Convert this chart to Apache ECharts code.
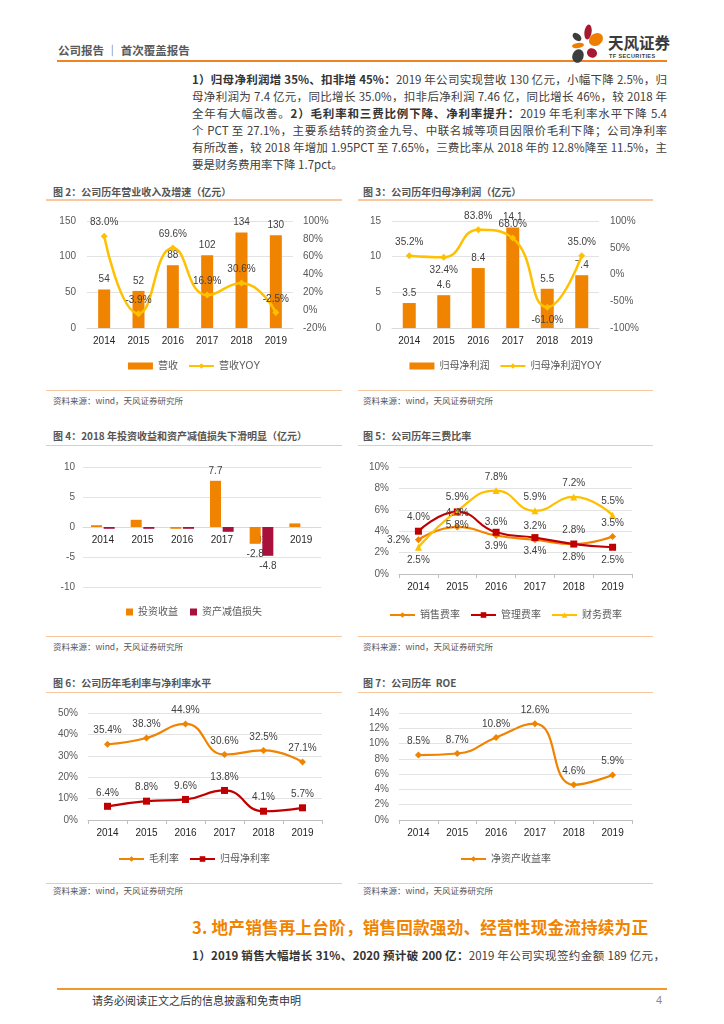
<!DOCTYPE html>
<html>
<head>
<meta charset="utf-8">
<script src="https://cdn.jsdelivr.net/npm/echarts@6.0.0/dist/echarts.min.js"></script>
<style>
html,body{margin:0;padding:0;background:#fff;}
body{width:724px;height:1024px;position:relative;overflow:hidden;font-family:'Liberation Sans','Noto Sans CJK SC',sans-serif;}
.a{position:absolute;white-space:nowrap;}
.hdr{font-family:'Noto Sans CJK SC',sans-serif;font-size:11.5px;line-height:15px;color:#5a5a5a;font-weight:bold;}
.p{position:absolute;left:192px;width:475px;font-family:'Noto Sans CJK SC',sans-serif;font-size:11.5px;line-height:17px;height:17px;color:#404040;text-align:justify;text-align-last:justify;overflow:visible;}
.p b{color:#333;}
.ttl{font-family:'Noto Sans CJK SC',sans-serif;font-size:10px;line-height:13px;color:#555;font-weight:bold;}
.src{font-family:'Noto Sans CJK SC',sans-serif;font-size:8.5px;line-height:11px;color:#555;}
.ul{position:absolute;height:1.5px;background:#F8C9A0;}
.chart{position:absolute;}
</style>
</head>
<body>
<!-- header -->
<div class="a hdr" style="left:58px;top:43px;">公司报告 ｜ 首次覆盖报告</div>
<div style="position:absolute;left:57px;top:59.5px;width:610px;height:2.5px;background:#EF8522;"></div>
<svg style="position:absolute;left:568px;top:22px;" width="40" height="44" viewBox="0 0 40 44">
  <ellipse cx="20" cy="10" rx="3.6" ry="7.5" transform="rotate(8 20 10)" fill="#A6192E"/>
  <ellipse cx="9" cy="15" rx="5" ry="3.4" transform="rotate(40 9 15)" fill="#3D3D3D"/>
  <ellipse cx="28" cy="17.5" rx="7.5" ry="6" transform="rotate(-35 28 17.5)" fill="#EE7D00"/>
  <ellipse cx="10" cy="23.5" rx="6" ry="2.6" transform="rotate(-8 10 23.5)" fill="#EE7D00"/>
  <ellipse cx="24" cy="31" rx="5.2" ry="4.6" transform="rotate(30 24 31)" fill="#A6192E"/>
  <ellipse cx="10" cy="34" rx="5.6" ry="7" transform="rotate(20 10 34)" fill="#3D3D3D"/>
</svg>
<div class="a" style="left:608px;top:33px;font-family:'Noto Sans CJK SC',sans-serif;font-size:15.5px;line-height:19px;font-weight:bold;color:#3a3a3a;">天风证券</div>
<div class="a" style="left:609px;top:52.5px;font-size:5.5px;line-height:7px;font-weight:bold;color:#3a3a3a;letter-spacing:0.4px;">TF SECURITIES</div>

<!-- paragraph -->
<div class="p" style="top:71px;"><b>1）归母净利润增 35%、扣非增 45%：</b>2019 年公司实现营收 130 亿元，小幅下降 2.5%，归</div>
<div class="p" style="top:88px;">母净利润为 7.4 亿元，同比增长 35.0%，扣非后净利润 7.46 亿，同比增长 46%，较 2018 年</div>
<div class="p" style="top:105px;">全年有大幅改善。<b>2）毛利率和三费比例下降、净利率提升：</b>2019 年毛利率水平下降 5.4</div>
<div class="p" style="top:122px;">个 PCT 至 27.1%，主要系结转的资金九号、中联名城等项目因限价毛利下降；公司净利率</div>
<div class="p" style="top:139px;">有所改善，较 2018 年增加 1.95PCT 至 7.65%，三费比率从 2018 年的 12.8%降至 11.5%，主</div>
<div class="p" style="top:156px;text-align-last:left;">要是财务费用率下降 1.7pct。</div>

<!-- figure titles and rules -->
<div class="a ttl" style="left:53px;top:184.5px;">图 2：公司历年营业收入及增速（亿元）</div>
<div class="a ttl" style="left:363px;top:184.5px;">图 3：公司历年归母净利润（亿元）</div>
<div class="ul" style="left:46px;top:199px;width:296px;"></div>
<div class="ul" style="left:358px;top:199px;width:295px;"></div>
<div class="ul" style="left:46px;top:389.5px;width:296px;"></div>
<div class="ul" style="left:358px;top:389.5px;width:295px;"></div>
<div class="a src" style="left:53px;top:394.5px;">资料来源：wind，天风证券研究所</div>
<div class="a src" style="left:363px;top:394.5px;">资料来源：wind，天风证券研究所</div>

<div class="a ttl" style="left:53px;top:428.5px;">图 4：2018 年投资收益和资产减值损失下滑明显（亿元）</div>
<div class="a ttl" style="left:363px;top:428.5px;">图 5：公司历年三费比率</div>
<div class="ul" style="left:46px;top:444.5px;width:296px;"></div>
<div class="ul" style="left:358px;top:444.5px;width:295px;"></div>
<div class="ul" style="left:46px;top:635.5px;width:296px;"></div>
<div class="ul" style="left:358px;top:635.5px;width:295px;"></div>
<div class="a src" style="left:53px;top:640.5px;">资料来源：wind，天风证券研究所</div>
<div class="a src" style="left:363px;top:640.5px;">资料来源：wind，天风证券研究所</div>

<div class="a ttl" style="left:53px;top:675.5px;">图 6：公司历年毛利率与净利率水平</div>
<div class="a ttl" style="left:363px;top:675.5px;">图 7：公司历年&nbsp; ROE</div>
<div class="ul" style="left:46px;top:691.5px;width:296px;"></div>
<div class="ul" style="left:358px;top:691.5px;width:295px;"></div>
<div class="ul" style="left:46px;top:882.5px;width:296px;"></div>
<div class="ul" style="left:358px;top:882.5px;width:295px;"></div>
<div class="a src" style="left:53px;top:884.5px;">资料来源：wind，天风证券研究所</div>
<div class="a src" style="left:363px;top:884.5px;">资料来源：wind，天风证券研究所</div>

<!-- charts -->
<div id="c2" class="chart" style="left:46px;top:200px;width:296px;height:190px;"></div>
<div id="c3" class="chart" style="left:358px;top:200px;width:295px;height:190px;"></div>
<div id="c4" class="chart" style="left:46px;top:445px;width:296px;height:191px;"></div>
<div id="c5" class="chart" style="left:358px;top:445px;width:295px;height:191px;"></div>
<div id="c6" class="chart" style="left:46px;top:692px;width:296px;height:191px;"></div>
<div id="c7" class="chart" style="left:358px;top:692px;width:295px;height:191px;"></div>

<!-- section 3 -->
<div class="a" style="left:192px;top:916px;font-family:'Noto Sans CJK SC',sans-serif;font-size:16.6px;line-height:22px;color:#F08300;font-weight:bold;letter-spacing:0.2px;">3. 地产销售再上台阶，销售回款强劲、经营性现金流持续为正</div>
<div class="p" style="top:946.5px;width:473px;"><b>1）2019 销售大幅增长 31%、2020 预计破 200 亿：</b>2019 年公司实现签约金额 189 亿元，</div>

<!-- footer -->
<div style="position:absolute;left:57px;top:988px;width:610px;height:2px;background:#EF9A2A;"></div>
<div class="a" style="left:92px;top:993px;font-family:'Noto Sans CJK SC',sans-serif;font-size:11px;line-height:14px;color:#333;">请务必阅读正文之后的信息披露和免责申明</div>
<div class="a" style="left:656px;top:993px;font-size:11px;line-height:14px;color:#888;">4</div>

<script>
// ---------------- data ----------------
const years = ['2014', '2015', '2016', '2017', '2018', '2019'];
const revenue = [54, 52, 88, 102, 134, 130];
const revenueYoy = [83.0, -3.9, 69.6, 16.9, 30.6, -2.5];
const netProfit = [3.5, 4.6, 8.4, 14.1, 5.5, 7.4];
const netProfitYoy = [35.2, 32.4, 83.8, 68.0, -61.0, 35.0];
const investIncome = [0.3, 1.2, -0.3, 7.7, -2.8, 0.6];
const impairment = [-0.3, -0.3, -0.3, -0.8, -4.8, null];
const salesRate = [3.2, 4.4, 3.6, 3.2, 2.8, 3.5];
const mgmtRate = [4.0, 5.8, 3.9, 3.4, 2.8, 2.5];
const finRate = [2.5, 5.9, 7.8, 5.9, 7.2, 5.5];
const grossMargin = [35.4, 38.3, 44.9, 30.6, 32.5, 27.1];
const netMargin = [6.4, 8.8, 9.6, 13.8, 4.1, 5.7];
const roe = [8.5, 8.7, 10.8, 12.6, 4.6, 5.9];

// label placement (style, not data)
const yoy3Pos = ['top', 'bottom', 'top', 'top', 'bottom', 'top'];
const investLabelShow = [false, false, false, true, true, false];
const impairLabelShow = [false, false, false, false, true, false];
const salesPos = ['left', 'top', 'top', 'top', 'top', 'top'];
const mgmtPos = ['top', 'bottom', 'bottom', 'bottom', 'bottom', 'bottom'];
const finPos = ['bottom', 'top', 'top', 'top', 'top', 'top'];

// ---------------- styles ----------------
const FONT = "'Liberation Sans','Noto Sans CJK SC',sans-serif";
const ORANGE = '#F08300';
const YELLOW = '#FFC000';
const DARKRED = '#C00000';
const CRIMSON = '#A9113C';
const LBL = { color: '#404040', fontSize: 10, fontFamily: FONT };
const pct = p => Number(p.value).toFixed(1) + '%';

function legendCfg(top, data, w, h, gap) {
  return { top: top, left: 'center', itemWidth: w, itemHeight: h, itemGap: gap,
    textStyle: { fontSize: 10, color: '#595959', fontFamily: FONT }, data: data };
}
function catAxis(ticks) {
  return { type: 'category', data: years,
    axisLine: { lineStyle: { color: ticks ? '#BFBFBF' : '#D9D9D9', width: 1 } },
    axisTick: ticks ? { show: true, length: 4, lineStyle: { color: '#BFBFBF' } } : { show: false },
    axisLabel: { color: '#262626', fontSize: 10, margin: 8, fontFamily: FONT } };
}
function valAxis(min, max, interval, fmt, margin, grid) {
  return { type: 'value', min: min, max: max, interval: interval,
    axisLine: { show: false }, axisTick: { show: false },
    axisLabel: { color: '#595959', fontSize: 10, margin: margin, fontFamily: FONT, formatter: fmt },
    splitLine: grid ? { lineStyle: { color: '#E3E3E3', width: 1 } } : { show: false } };
}
function mk(id, opt) {
  const c = echarts.init(document.getElementById(id), null, { renderer: 'canvas' });
  opt.animation = false;
  opt.textStyle = { fontFamily: FONT };
  c.setOption(opt);
}

// Figure 2
mk('c2', {
  grid: { left: 41, right: 49, top: 21, bottom: 62 },
  legend: legendCfg(156, [{ name: '营收', icon: 'rect' }, { name: '营收YOY' }], 25, 7, 10),
  xAxis: catAxis(false),
  yAxis: [valAxis(0, 150, 50, '{value}', 11, true), valAxis(-20, 100, 20, '{value}%', 10, false)],
  series: [
    { name: '营收', type: 'bar', data: revenue, barWidth: 12, itemStyle: { color: ORANGE },
      label: Object.assign({ show: true, position: 'top' }, LBL) },
    { name: '营收YOY', type: 'line', yAxisIndex: 1, data: revenueYoy, smooth: true,
      symbol: 'diamond', symbolSize: 7, lineStyle: { width: 2.5, color: YELLOW }, itemStyle: { color: YELLOW },
      label: Object.assign({ show: true, position: 'top', formatter: pct }, LBL) }
  ]
});

// Figure 3
mk('c3', {
  grid: { left: 34, right: 54, top: 21, bottom: 62 },
  legend: legendCfg(156, [{ name: '归母净利润', icon: 'rect' }, { name: '归母净利润YOY' }], 25, 7, 10),
  xAxis: catAxis(false),
  yAxis: [valAxis(0, 15, 5, '{value}', 11, true), valAxis(-100, 100, 50, '{value}%', 11, false)],
  series: [
    { name: '归母净利润', type: 'bar', data: netProfit, barWidth: 13, itemStyle: { color: ORANGE },
      label: Object.assign({ show: true, position: 'top', formatter: p => Number(p.value).toFixed(1) }, LBL) },
    { name: '归母净利润YOY', type: 'line', yAxisIndex: 1, smooth: true,
      data: netProfitYoy.map((v, i) => ({ value: v, label: { position: yoy3Pos[i] } })),
      symbol: 'diamond', symbolSize: 7, lineStyle: { width: 2.5, color: YELLOW }, itemStyle: { color: YELLOW },
      label: Object.assign({ show: true, formatter: pct }, LBL) }
  ]
});

// Figure 4 (category axis drawn at the zero line via offset)
const c4x = catAxis(false);
c4x.axisLine.onZero = false;
c4x.offset = -60;
mk('c4', {
  grid: { left: 37, right: 21, top: 22, bottom: 49 },
  legend: legendCfg(157, [{ name: '投资收益', icon: 'rect' }, { name: '资产减值损失', icon: 'rect' }], 7, 7, 12),
  xAxis: c4x,
  yAxis: valAxis(-10, 10, 5, '{value}', 8, true),
  series: [
    { name: '投资收益', type: 'bar', barWidth: 11, barGap: '15%', itemStyle: { color: ORANGE },
      data: investIncome.map((v, i) => ({ value: v, label: { show: investLabelShow[i], position: v < 0 ? 'bottom' : 'top' } })),
      label: Object.assign({ formatter: p => Number(p.value).toFixed(1) }, LBL) },
    { name: '资产减值损失', type: 'bar', barWidth: 11, itemStyle: { color: CRIMSON },
      data: impairment.map((v, i) => ({ value: v, label: { show: impairLabelShow[i], position: 'bottom' } })),
      label: Object.assign({ formatter: p => Number(p.value).toFixed(1) }, LBL) }
  ]
});

// Figure 5
function lineSeries(name, vals, color, symbol, pos) {
  return { name: name, type: 'line', smooth: true, symbol: symbol, symbolSize: 7,
    lineStyle: { width: 2.2, color: color }, itemStyle: { color: color },
    data: vals.map((v, i) => ({ value: v, label: { position: pos ? pos[i] : 'top' } })),
    label: Object.assign({ show: true, formatter: pct }, LBL) };
}
mk('c5', {
  grid: { left: 41, right: 21, top: 22, bottom: 62 },
  legend: legendCfg(160, ['销售费率', '管理费率', '财务费率'], 25, 7, 10),
  xAxis: catAxis(true),
  yAxis: valAxis(0, 10, 2, '{value}%', 10, true),
  series: [
    lineSeries('销售费率', salesRate, ORANGE, 'diamond', salesPos),
    lineSeries('管理费率', mgmtRate, DARKRED, 'rect', mgmtPos),
    lineSeries('财务费率', finRate, YELLOW, 'triangle', finPos)
  ]
});

// Figure 6
mk('c6', {
  grid: { left: 42, right: 20, top: 21, bottom: 63 },
  legend: legendCfg(157, ['毛利率', '归母净利率'], 25, 7, 10),
  xAxis: catAxis(true),
  yAxis: valAxis(0, 50, 10, '{value}%', 10, true),
  series: [
    lineSeries('毛利率', grossMargin, ORANGE, 'diamond'),
    lineSeries('归母净利率', netMargin, DARKRED, 'rect')
  ]
});

// Figure 7
mk('c7', {
  grid: { left: 41, right: 21, top: 21, bottom: 63 },
  legend: legendCfg(157, ['净资产收益率'], 25, 7, 10),
  xAxis: catAxis(true),
  yAxis: valAxis(0, 14, 2, '{value}%', 10, true),
  series: [lineSeries('净资产收益率', roe, ORANGE, 'diamond')]
});
</script>
</body>
</html>
